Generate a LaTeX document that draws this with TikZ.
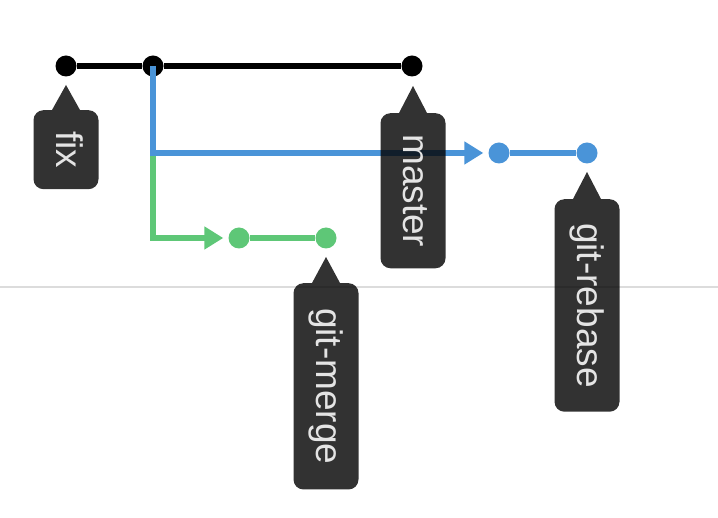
\documentclass[tikz,border=0pt]{standalone}
\usepackage{fontspec}
\setmainfont{Liberation Sans}
\usetikzlibrary{arrows.meta}
\definecolor{mainline}{HTML}{000000}
\definecolor{rebaseblue}{HTML}{4A94D8}
\definecolor{mergegreen}{HTML}{5EC777}
\definecolor{tagfill}{HTML}{050505}
\definecolor{tagtext}{HTML}{E4E4E4}
\definecolor{rule}{HTML}{DCDCDC}
\begin{document}
\begin{tikzpicture}[x=1pt,y=-1pt,
  commit/.style={circle,fill=#1,inner sep=0pt,minimum size=21pt},
  branch/.style={draw=#1,line width=5.5pt},
  tip/.style={-{Triangle[length=19pt,width=22pt]}},
  tag/.style={rectangle,rounded corners=10pt,fill=tagfill,fill opacity=0.82,
    text=tagtext,text opacity=1,rotate=-90,anchor=west,
    minimum height=65pt,inner xsep=21pt,inner ysep=0pt,
    text height=27pt,text depth=8pt,
    font=\fontsize{37}{40}\selectfont},
  pointer/.style={fill=tagfill,fill opacity=0.82}
]
\useasboundingbox (0,0) rectangle (718,518);

% separator rule
\draw[rule,line width=2pt] (0,287) -- (718,287);

% commits
\node[commit=mainline] (c1) at (66,66) {};
\node[commit=mainline] (c2) at (153,66) {};
\node[commit=mainline] (c3) at (412,66) {};
\node[commit=rebaseblue] (b1) at (499,153) {};
\node[commit=rebaseblue] (b2) at (587,153) {};
\node[commit=mergegreen] (g1) at (239,238) {};
\node[commit=mergegreen] (g2) at (326,238) {};
\coordinate (split) at (c2 |- b1);

% branches
\draw[branch=mergegreen,tip,shorten >=5pt] (split) |- (g1);
\draw[branch=mergegreen] (g1) -- (g2);
\draw[branch=rebaseblue,tip,shorten >=5pt] (c2.center) |- (b1);
\draw[branch=rebaseblue] (b1) -- (b2);
\draw[branch=mainline] (c1) -- (c2) -- (c3);

% labels
\node[tag] (tfix) at (66,110) {fix};
\fill[pointer] (52,110) -- (66,85) -- (80,110) -- cycle;
\node[tag] (tmaster) at (413,113) {master};
\fill[pointer] (399,113) -- (413,86) -- (427,113) -- cycle;
\node[tag,inner xsep=25pt] (tmerge) at (326,283) {git-merge};
\fill[pointer] (312,283) -- (326,257) -- (340,283) -- cycle;
\node[tag,inner xsep=24pt] (trebase) at (587,199) {git-rebase};
\fill[pointer] (573,199) -- (587,172) -- (601,199) -- cycle;
\end{tikzpicture}
\end{document}
